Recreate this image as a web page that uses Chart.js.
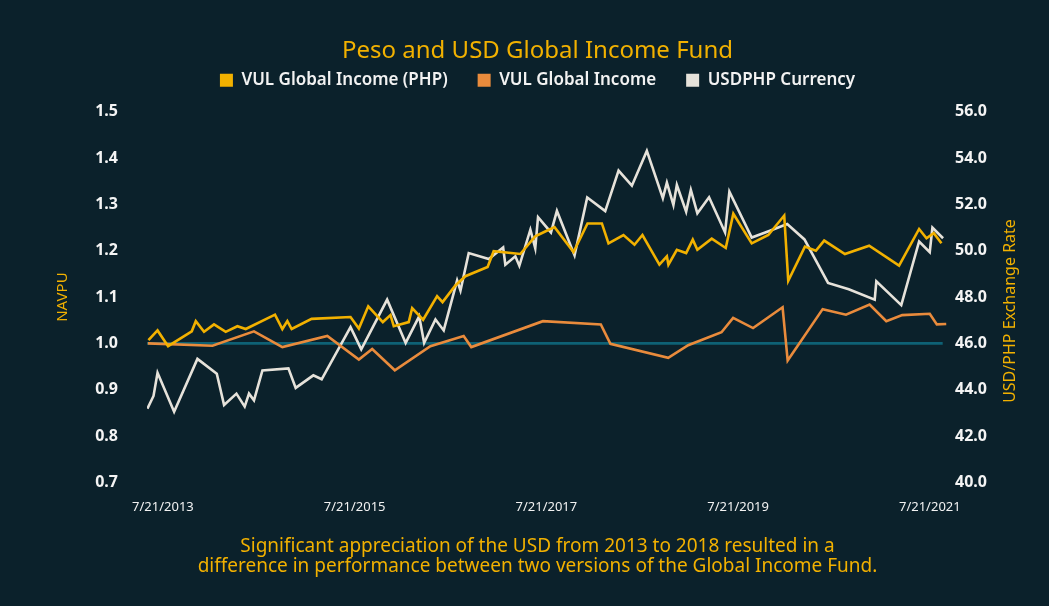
<!DOCTYPE html>
<html lang="en">
<head>
<meta charset="UTF-8">
<title>Peso and USD Global Income Fund</title>
<style>
html, body {
  margin: 0;
  padding: 0;
  background: #0b212b;
}
canvas {
  display: block;
}
</style>
</head>
<body>
<canvas id="myChart" width="1049" height="606"></canvas>

<script src="https://cdn.jsdelivr.net/npm/chart.js"></script>
<script>
// dates are decimal years (7/21 = year + 201/365)
const phpDates = [2013.400, 2013.495, 2013.605, 2013.852, 2013.894, 2013.980, 2014.084, 2014.206, 2014.328, 2014.415,
  2014.720, 2014.797, 2014.849, 2014.894, 2015.102, 2015.508, 2015.595, 2015.693, 2015.845, 2015.925,
  2015.959, 2016.115, 2016.151, 2016.265, 2016.411, 2016.468, 2016.602, 2016.706, 2016.938, 2017.001,
  2017.279, 2017.435, 2017.522, 2017.636, 2017.834, 2017.980, 2018.130, 2018.199, 2018.355, 2018.470,
  2018.553, 2018.730, 2018.808, 2018.824, 2018.912, 2019.009, 2019.078, 2019.126, 2019.276, 2019.422,
  2019.501, 2019.693, 2019.866, 2020.032, 2020.074, 2020.248, 2020.362, 2020.449, 2020.665, 2020.918,
  2021.230, 2021.439, 2021.516, 2021.592, 2021.672];
const phpNav = [1.007, 1.028, 0.994, 1.026, 1.048, 1.025, 1.041, 1.025, 1.037, 1.031,
  1.062, 1.031, 1.048, 1.031, 1.053, 1.057, 1.032, 1.080, 1.046, 1.061,
  1.037, 1.046, 1.076, 1.051, 1.102, 1.089, 1.125, 1.145, 1.165, 1.199,
  1.193, 1.231, 1.240, 1.251, 1.197, 1.259, 1.259, 1.216, 1.234, 1.213,
  1.234, 1.170, 1.188, 1.170, 1.202, 1.195, 1.224, 1.202, 1.226, 1.206,
  1.280, 1.216, 1.234, 1.276, 1.135, 1.209, 1.200, 1.222, 1.193, 1.211,
  1.168, 1.247, 1.227, 1.238, 1.216];

const usdDates = [2013.394, 2014.068, 2014.501, 2014.797, 2015.266, 2015.595, 2015.734, 2015.970, 2016.341, 2016.688,
  2016.768, 2017.515, 2018.119, 2018.219, 2018.822, 2019.030, 2019.378, 2019.499, 2019.707, 2020.015,
  2020.068, 2020.433, 2020.676, 2020.923, 2021.097, 2021.263, 2021.550, 2021.624, 2021.722];
const usdNav = [1.000, 0.995, 1.026, 0.992, 1.016, 0.965, 0.988, 0.942, 0.994, 1.016,
  0.992, 1.048, 1.041, 0.999, 0.969, 0.996, 1.024, 1.055, 1.033, 1.078,
  0.963, 1.074, 1.062, 1.084, 1.048, 1.061, 1.064, 1.041, 1.042];

const fxDates = [2013.389, 2013.453, 2013.495, 2013.668, 2013.911, 2014.113, 2014.189, 2014.318, 2014.404, 2014.449,
  2014.501, 2014.589, 2014.860, 2014.936, 2015.120, 2015.207, 2015.508, 2015.620, 2015.890, 2016.083,
  2016.224, 2016.276, 2016.394, 2016.480, 2016.620, 2016.655, 2016.741, 2016.950, 2017.100, 2017.123,
  2017.227, 2017.269, 2017.384, 2017.435, 2017.464, 2017.599, 2017.661, 2017.845, 2017.977, 2018.165,
  2018.304, 2018.443, 2018.599, 2018.766, 2018.808, 2018.876, 2018.912, 2019.009, 2019.058, 2019.126,
  2019.248, 2019.415, 2019.460, 2019.693, 2019.883, 2020.063, 2020.243, 2020.489, 2020.705, 2020.976,
  2020.993, 2021.253, 2021.439, 2021.550, 2021.578, 2021.689];
const fxRate = [43.18, 43.73, 44.73, 43.05, 45.33, 44.69, 43.34, 43.83, 43.27, 43.83,
  43.54, 44.83, 44.92, 44.08, 44.62, 44.45, 46.70, 45.74, 47.89, 46.02,
  47.17, 46.02, 47.03, 46.56, 48.72, 48.28, 49.90, 49.64, 50.14, 49.40,
  49.76, 49.35, 50.91, 50.11, 51.45, 50.79, 51.72, 49.80, 52.30, 51.71,
  53.46, 52.81, 54.31, 52.27, 52.94, 51.98, 52.84, 51.69, 52.63, 51.62,
  52.31, 50.79, 52.55, 50.57, 50.86, 51.15, 50.49, 48.61, 48.34, 47.89,
  48.68, 47.65, 50.40, 49.94, 51.00, 50.54];

// parity line at NAVPU 1.0
const parityDates = [2013.385, 2021.685];
const parityNav = [1.0, 1.0];

const xTickValues = [2013.551, 2015.551, 2017.551, 2019.551, 2021.551];
const xTickLabels = ['7/21/2013', '7/21/2015', '7/21/2017', '7/21/2019', '7/21/2021'];

const seriesNames = ['VUL Global Income (PHP)', 'VUL Global Income', 'USDPHP Currency'];
const captionLines = [
  'Significant appreciation of the USD from 2013 to 2018 resulted in a',
  'difference in performance between two versions of the Global Income Fund.'
];

const YELLOW = '#f2b100';
const ORANGE = '#e98b3c';
const LIGHT = '#e6e2da';
const TEAL = '#0e6175';
const FONT = "'Noto Sans', sans-serif";

function toPoints(xs, ys) {
  return xs.map((x, i) => ({x: x, y: ys[i]}));
}

// right axis title reads bottom-to-top, so it is drawn here
const rightTitle = {
  id: 'rightTitle',
  beforeInit(chart) {
    // keep the legend box a fixed height so the plot starts where the original does
    const lg = chart.legend;
    const fit = lg.fit;
    lg.fit = function() {
      fit.call(this);
      this.height = 70;
    };
  },
  afterDraw(chart) {
    const c = chart.ctx;
    const s = chart.scales.y2;
    c.save();
    c.translate(s.right - 39, 311);
    c.rotate(-Math.PI / 2);
    c.fillStyle = YELLOW;
    c.font = '16px ' + FONT;
    c.textAlign = 'center';
    c.textBaseline = 'middle';
    c.fillText('USD/PHP Exchange Rate', 0, 0);
    c.restore();
  }
};

const ctx = document.getElementById('myChart');

let chart = new Chart(ctx, {
  type: 'line',
  data: {
    datasets: [{
      label: seriesNames[0],
      data: toPoints(phpDates, phpNav),
      borderColor: YELLOW,
      backgroundColor: YELLOW,
      yAxisID: 'y'
    }, {
      label: seriesNames[1],
      data: toPoints(usdDates, usdNav),
      borderColor: ORANGE,
      backgroundColor: ORANGE,
      yAxisID: 'y'
    }, {
      label: seriesNames[2],
      data: toPoints(fxDates, fxRate),
      borderColor: LIGHT,
      backgroundColor: LIGHT,
      yAxisID: 'y2'
    }, {
      label: 'parity',
      data: toPoints(parityDates, parityNav),
      borderColor: TEAL,
      backgroundColor: TEAL,
      yAxisID: 'y'
    }]
  },
  plugins: [rightTitle],
  options: {
    responsive: false,
    animation: false,
    events: [],
    elements: {
      line: {borderWidth: 2.6, tension: 0, borderJoinStyle: 'miter'},
      point: {radius: 0}
    },
    layout: {padding: {top: 37, left: 26, right: 0, bottom: 0}},
    plugins: {
      tooltip: {enabled: false},
      title: {
        display: true,
        text: 'Peso and USD Global Income Fund',
        color: YELLOW,
        font: {family: FONT, size: 24, weight: 'normal'},
        padding: {top: 0, bottom: -24}
      },
      legend: {
        display: true,
        labels: {
          color: '#f2f2f2',
          font: {family: FONT, size: 17, weight: '600'},
          boxWidth: 13,
          boxHeight: 13,
          padding: 30,
          filter: item => item.datasetIndex < 3,
          generateLabels: function(c) {
            let items = Chart.defaults.plugins.legend.labels.generateLabels(c);
            items.forEach(it => { it.lineWidth = 0; });
            return items;
          }
        }
      },
      subtitle: {
        display: true,
        position: 'bottom',
        text: captionLines,
        color: YELLOW,
        font: {family: FONT, size: 19, weight: 'normal', lineHeight: 1.07},
        padding: {top: 0, bottom: 29}
      }
    },
    scales: {
      x: {
        type: 'linear',
        min: 2013.385,
        max: 2021.73,
        grid: {display: false, drawTicks: false},
        border: {display: false},
        ticks: {
          color: '#f2f2f2',
          font: {family: FONT, size: 13},
          padding: 17,
          maxRotation: 0,
          autoSkip: false,
          callback: (v, i) => xTickLabels[i]
        },
        afterBuildTicks: s => { s.ticks = xTickValues.map(v => ({value: v})); },
        afterFit: s => { s.height = 54; }
      },
      y: {
        position: 'left',
        min: 0.7,
        max: 1.5,
        grid: {display: false, drawTicks: false},
        border: {display: false},
        ticks: {
          stepSize: 0.1,
          color: '#f4f4f4',
          font: {family: FONT, size: 16, weight: 'bold'},
          padding: 29,
          callback: v => v.toFixed(1)
        },
        title: {
          display: true,
          text: 'NAVPU',
          color: YELLOW,
          font: {family: FONT, size: 15, weight: 'normal'},
          padding: {top: 28, bottom: 0}
        },
        afterFit: s => { s.width = 121; }
      },
      y2: {
        position: 'right',
        min: 40,
        max: 56,
        grid: {display: false, drawTicks: false},
        border: {display: false},
        ticks: {
          stepSize: 2,
          color: '#f4f4f4',
          font: {family: FONT, size: 16, weight: 'bold'},
          padding: 8,
          callback: v => v.toFixed(1)
        },
        afterFit: s => { s.width = 102; }
      }
    }
  }
});
</script>
</body>
</html>
